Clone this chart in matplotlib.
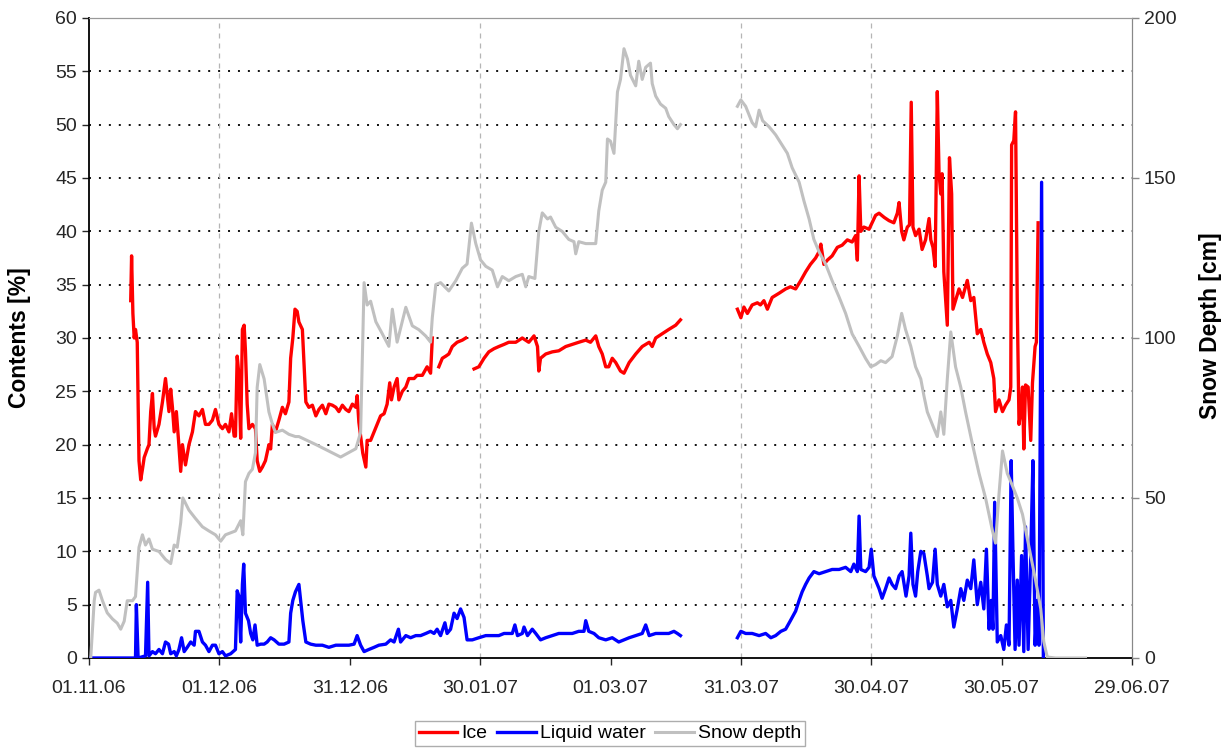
import numpy as np
import matplotlib
matplotlib.use('Agg')
import matplotlib.pyplot as plt

nan = np.nan

# x values are days since 01.11.06
tick_days   = [0, 30, 60, 90, 120, 150, 180, 210, 240]
tick_labels = ['01.11.06', '01.12.06', '31.12.06', '30.01.07', '01.03.07',
               '31.03.07', '30.04.07', '30.05.07', '29.06.07']
vgrid_days  = [30, 90, 150, 180]

# Ice content [%]
ice = [
    (9.6, 33.5), (9.8, 37.7), (10.1, 32.3), (10.4, 30.0), (10.7, 30.8), (11.1, 29.6), (11.5, 18.5),
    (11.9, 16.7), (12.3, 17.7), (12.7, 18.8), (13.4, 19.6), (13.8, 20.0), (14.2, 23.1), (14.6, 24.8),
    (15.0, 21.5), (15.3, 20.8), (16.1, 21.9), (16.9, 24.0), (17.6, 26.2), (18.0, 24.6), (18.4, 23.1),
    (18.8, 25.2), (19.2, 23.5), (19.6, 21.2), (20.1, 23.1), (20.6, 20.4), (21.1, 17.5), (21.5, 20.0),
    (22.2, 18.1), (23.0, 20.0), (23.8, 21.2), (24.5, 23.1), (25.3, 22.7), (26.1, 23.3), (26.8, 21.9),
    (27.6, 21.9), (28.4, 22.3), (29.1, 23.3), (29.9, 21.9), (30.7, 21.5), (31.4, 21.9), (32.2, 21.2),
    (32.8, 22.9), (33.4, 20.8), (33.7, 20.8), (34.1, 28.3), (34.5, 26.5), (34.9, 20.6), (35.3, 30.8),
    (35.7, 31.2), (36.0, 28.8), (36.4, 23.8), (36.8, 21.5), (37.6, 21.9), (38.3, 21.5), (38.7, 18.5),
    (39.3, 17.5), (39.9, 17.9), (40.6, 18.5), (41.4, 20.0), (41.8, 19.6), (42.2, 21.9), (42.9, 21.2),
    (43.7, 22.3), (44.5, 23.5), (45.2, 22.9), (46.0, 24.0), (46.4, 28.1), (46.9, 30.0), (47.4, 32.7),
    (47.9, 32.5), (48.3, 31.5), (49.1, 30.8), (49.5, 27.3), (49.9, 24.0), (50.6, 23.5), (51.4, 23.7),
    (52.2, 22.7), (52.9, 23.3), (53.7, 23.7), (54.5, 22.9), (55.2, 23.8), (56.0, 23.7), (56.8, 23.5),
    (57.5, 23.1), (58.3, 23.7), (59.1, 23.3), (59.8, 23.1), (60.6, 23.8), (61.4, 23.5), (61.7, 24.6),
    (62.1, 22.1), (62.5, 20.8), (63.0, 19.2), (63.7, 17.9), (64.0, 20.4), (64.8, 20.4), (65.6, 21.2),
    (66.3, 21.9), (67.1, 22.7), (67.9, 22.9), (68.6, 23.8), (69.2, 25.8), (69.6, 24.2), (70.2, 25.4),
    (70.9, 26.2), (71.3, 24.2), (72.1, 25.0), (72.9, 25.4), (73.6, 26.2), (74.8, 26.2), (75.5, 26.5),
    (76.7, 26.5), (77.8, 27.3), (78.6, 26.7), (79.0, 30.0), (79.7, nan),
    (80.5, 27.3), (81.3, 28.1), (82.1, 28.3), (82.8, 28.5), (83.6, 29.2), (84.7, 29.6), (85.9, 29.8),
    (86.7, 30.0), (87.5, nan),
    (88.6, 27.1), (89.7, 27.3), (90.9, 28.1), (92.0, 28.7), (93.2, 29.0), (94.3, 29.2), (95.5, 29.4),
    (96.6, 29.6), (98.2, 29.6), (99.7, 30.0), (101.2, 29.6), (102.4, 30.2), (103.2, 29.2), (103.5, 26.9),
    (103.9, 28.1), (105.1, 28.5), (106.6, 28.7), (108.1, 28.8), (109.7, 29.2), (111.2, 29.4),
    (112.7, 29.6), (114.3, 29.8), (115.4, 29.6), (116.6, 30.2), (117.3, 29.2), (118.1, 28.5),
    (118.9, 27.3), (119.6, 27.3), (120.4, 28.1), (121.2, 27.7), (122.3, 26.9), (123.1, 26.7),
    (124.3, 27.7), (125.8, 28.5), (127.3, 29.2), (128.9, 29.6), (129.6, 29.2), (130.4, 30.0),
    (131.9, 30.4), (133.4, 30.8), (135.0, 31.2), (136.1, 31.7), (142.0, nan),
    (149.2, 32.7), (150.0, 31.9), (150.7, 32.9), (151.5, 32.3), (152.6, 33.1), (153.8, 33.3),
    (154.5, 33.1), (155.3, 33.5), (156.1, 32.7), (157.2, 33.8), (158.8, 34.2), (160.3, 34.6),
    (161.4, 34.8), (162.6, 34.6), (163.8, 35.4), (164.9, 36.2), (166.0, 36.9), (167.2, 37.5),
    (168.0, 38.1), (168.4, 38.8), (169.1, 36.9), (169.9, 37.3), (171.0, 37.7), (172.2, 38.5),
    (173.3, 38.7), (174.5, 39.2), (175.6, 39.0), (176.4, 39.6), (176.8, 37.3), (177.2, 45.2),
    (177.6, 40.0), (178.3, 40.4), (179.5, 40.2), (180.2, 40.8), (181.0, 41.5), (181.8, 41.7),
    (183.0, 41.3), (184.1, 41.0), (185.2, 40.8), (186.0, 41.7), (186.4, 42.7), (187.0, 40.0),
    (187.5, 39.2), (188.3, 40.4), (188.8, 40.6), (189.2, 52.1), (189.6, 40.4), (190.2, 39.6),
    (191.0, 40.2), (191.7, 38.3), (192.5, 39.2), (193.3, 41.2), (193.7, 39.2), (194.2, 38.5),
    (194.7, 36.7), (195.2, 53.1), (195.6, 45.4), (196.0, 43.5), (196.3, 45.4), (196.7, 36.2),
    (197.5, 31.2), (198.0, 46.9), (198.5, 43.5), (198.8, 32.7), (199.4, 33.5), (200.2, 34.6),
    (201.0, 33.8), (202.1, 35.4), (202.9, 33.5), (203.6, 33.8), (204.4, 30.4), (205.2, 30.8),
    (205.9, 29.6), (206.7, 28.5), (207.5, 27.7), (208.2, 26.2), (208.6, 23.1), (209.4, 24.2),
    (210.2, 23.1), (210.9, 23.7), (211.7, 24.2), (212.1, 25.4), (212.3, 48.1), (212.8, 48.5),
    (213.2, 51.2), (213.6, 33.1), (214.0, 21.9), (214.4, 23.1), (214.8, 25.4), (215.1, 19.6),
    (215.5, 25.6), (216.1, 25.4), (216.7, 20.4), (217.1, 25.8), (217.7, 29.2), (218.0, 29.6),
    (218.4, 40.8),
]

# Liquid water content [%]
water = [
    (0.0, 0.0), (10.7, 0.0), (10.9, 5.0), (11.3, 0.0), (13.0, 0.2), (13.5, 7.1), (13.8, 0.2),
    (14.6, 0.6), (15.3, 0.4), (16.1, 0.8), (16.9, 0.4), (17.6, 1.5), (18.3, 1.3), (18.8, 0.4),
    (19.6, 0.6), (20.1, 0.2), (20.7, 0.8), (21.3, 1.9), (21.9, 0.6), (22.6, 1.0), (23.4, 1.5),
    (24.2, 1.2), (24.5, 2.5), (25.3, 2.5), (26.1, 1.5), (26.8, 1.2), (27.6, 0.6), (28.4, 1.2),
    (29.1, 1.2), (29.9, 0.4), (30.7, 0.6), (31.4, 0.2), (32.6, 0.4), (33.7, 0.8), (34.1, 6.3),
    (34.5, 5.8), (34.9, 1.5), (35.3, 6.9), (35.6, 8.8), (36.0, 4.2), (36.7, 3.5), (37.2, 2.3),
    (37.7, 1.7), (38.2, 3.1), (38.7, 1.2), (39.5, 1.3), (40.3, 1.3), (41.0, 1.5), (41.8, 1.9),
    (42.6, 1.7), (43.7, 1.3), (44.9, 1.3), (46.0, 1.5), (46.4, 4.2), (46.9, 5.4), (47.5, 6.2),
    (48.3, 6.9), (48.7, 5.4), (49.2, 3.5), (49.9, 1.5), (51.0, 1.3), (52.2, 1.2), (53.7, 1.2),
    (55.2, 1.0), (56.8, 1.2), (58.3, 1.2), (59.8, 1.2), (61.0, 1.3), (61.7, 2.1), (62.5, 1.2),
    (63.3, 0.6), (64.4, 0.8), (65.6, 1.0), (66.7, 1.2), (68.3, 1.3), (69.4, 1.7), (70.2, 1.5),
    (71.2, 2.7), (71.7, 1.5), (72.9, 2.1), (74.0, 1.9), (75.2, 2.1), (76.3, 2.1), (77.5, 2.3),
    (78.6, 2.5), (79.4, 2.3), (80.1, 2.7), (80.9, 2.1), (81.9, 3.3), (82.4, 2.3), (83.2, 2.7),
    (84.0, 4.2), (84.7, 3.7), (85.5, 4.6), (86.3, 3.8), (87.0, 1.7), (88.2, 1.7), (89.7, 1.9),
    (91.3, 2.1), (92.8, 2.1), (94.3, 2.1), (95.5, 2.3), (96.6, 2.3), (97.4, 2.3), (98.0, 3.1),
    (98.6, 2.1), (99.7, 2.3), (100.1, 2.9), (100.9, 2.1), (102.0, 2.7), (102.8, 2.3), (103.9, 1.7),
    (105.1, 1.9), (106.6, 2.1), (108.1, 2.3), (109.7, 2.3), (111.2, 2.3), (112.7, 2.5), (113.9, 2.5),
    (114.3, 3.5), (115.0, 2.5), (116.2, 2.3), (117.3, 1.9), (118.9, 1.7), (120.4, 1.9), (121.9, 1.5),
    (123.1, 1.7), (124.3, 1.9), (125.8, 2.1), (127.3, 2.3), (128.1, 3.1), (128.9, 2.1), (130.4, 2.3),
    (131.9, 2.3), (133.4, 2.3), (134.6, 2.5), (135.4, 2.3), (136.1, 2.1), (142.0, nan),
    (149.2, 1.9), (150.0, 2.5), (151.1, 2.3), (152.6, 2.3), (154.2, 2.1), (155.7, 2.3), (156.9, 1.9),
    (158.0, 2.1), (159.2, 2.5), (160.3, 2.7), (161.4, 3.5), (162.6, 4.4), (163.4, 5.4), (164.1, 6.2),
    (164.9, 6.9), (165.7, 7.5), (166.8, 8.1), (168.0, 7.9), (169.5, 8.1), (171.0, 8.3), (172.6, 8.3),
    (174.1, 8.5), (175.3, 8.1), (176.0, 8.8), (176.8, 8.1), (177.2, 13.3), (177.6, 8.3), (178.7, 8.1),
    (179.5, 8.5), (180.0, 10.2), (180.6, 7.7), (181.8, 6.5), (182.5, 5.6), (183.3, 6.5), (184.1, 7.5),
    (184.8, 6.9), (185.6, 6.5), (186.4, 7.7), (187.1, 8.1), (188.0, 5.8), (188.7, 7.7), (189.1, 11.7),
    (189.6, 6.9), (190.2, 5.8), (190.7, 8.1), (191.4, 10.0), (192.1, 9.8), (192.9, 7.7), (193.3, 6.5),
    (194.1, 7.1), (194.7, 10.2), (195.2, 6.9), (196.0, 5.8), (196.7, 6.9), (197.5, 4.8), (198.3, 5.4),
    (199.0, 2.9), (199.8, 4.6), (200.6, 6.5), (201.3, 5.4), (202.1, 7.3), (202.9, 6.5), (203.6, 9.2),
    (204.4, 5.0), (205.2, 7.1), (205.9, 4.6), (206.5, 10.2), (207.1, 2.7), (207.6, 5.4), (208.0, 2.7),
    (208.4, 14.6), (209.0, 1.5), (209.8, 2.1), (210.5, 0.8), (211.1, 3.1), (211.7, 1.2), (212.2, 18.5),
    (212.6, 10.0), (213.1, 0.8), (213.6, 7.3), (214.0, 1.2), (214.6, 9.6), (215.1, 0.6), (215.5, 12.3),
    (216.1, 0.8), (216.7, 9.6), (217.2, 18.5), (217.7, 1.2), (218.2, 5.4), (218.6, 1.2), (219.2, 44.6),
    (219.6, 0.0),
]

# Snow depth [cm]
snow = [
    (0.4, 0.0), (1.2, 17.9), (1.5, 20.5), (2.3, 21.2), (3.1, 17.9), (4.2, 14.1), (5.4, 12.2),
    (6.5, 10.9), (7.3, 9.0), (8.1, 11.5), (8.8, 17.9), (10.0, 17.9), (10.7, 19.2), (11.5, 34.6),
    (12.3, 38.5), (13.0, 35.3), (13.8, 37.2), (14.6, 34.0), (16.1, 33.3), (17.6, 30.8), (18.8, 29.5),
    (19.6, 35.3), (20.3, 34.6), (21.1, 42.3), (21.6, 50.0), (23.0, 46.2), (24.5, 43.6), (26.1, 41.0),
    (27.6, 39.7), (29.1, 38.5), (30.3, 36.5), (31.4, 38.5), (33.7, 39.7), (34.9, 42.9), (35.4, 38.5),
    (36.0, 55.1), (36.8, 57.7), (37.6, 59.0), (38.3, 64.1), (38.7, 84.6), (39.3, 91.7), (40.3, 87.2),
    (41.4, 76.9), (42.2, 73.1), (42.9, 70.5), (44.5, 71.2), (46.0, 69.9), (47.5, 69.2), (48.3, 69.2),
    (52.2, 66.7), (56.0, 64.1), (57.9, 62.8), (61.4, 65.4), (62.5, 70.5), (63.3, 117.3), (64.0, 110.3),
    (64.8, 111.5), (66.0, 105.1), (67.5, 101.3), (69.0, 97.4), (69.8, 109.0), (70.9, 98.7),
    (72.9, 109.6), (74.4, 103.8), (75.9, 102.6), (77.5, 100.6), (78.6, 98.7), (79.0, 106.4),
    (79.8, 116.7), (80.9, 117.3), (82.8, 114.7), (84.4, 117.9), (85.9, 121.8), (87.0, 123.1),
    (88.0, 135.9), (89.0, 129.5), (90.1, 124.4), (91.3, 122.4), (92.8, 121.2), (94.0, 116.0),
    (95.1, 119.2), (96.6, 117.9), (98.2, 119.2), (99.7, 119.9), (100.5, 116.0), (101.2, 119.2),
    (102.6, 118.6), (103.5, 133.3), (104.3, 139.1), (105.5, 137.2), (106.2, 137.8), (107.4, 134.6),
    (108.9, 133.3), (110.4, 130.8), (111.6, 130.1), (112.0, 126.3), (112.7, 130.1), (114.3, 129.5),
    (116.6, 129.5), (117.3, 139.7), (118.1, 146.2), (118.9, 148.7), (119.3, 162.2), (120.0, 161.5),
    (120.8, 157.7), (121.6, 176.9), (122.3, 180.8), (123.1, 190.4), (123.9, 187.2), (124.6, 182.1),
    (125.8, 178.8), (126.5, 186.5), (127.3, 180.8), (128.1, 184.6), (129.2, 185.9), (129.6, 179.5),
    (130.4, 175.6), (131.5, 173.1), (132.7, 171.8), (133.4, 169.2), (134.6, 166.7), (135.4, 165.4),
    (136.1, 166.7), (142.0, nan),
    (149.2, 172.4), (150.0, 174.4), (151.1, 172.4), (152.6, 167.3), (153.4, 166.0), (154.2, 171.2),
    (155.0, 167.9), (156.5, 166.0), (158.0, 163.5), (159.5, 160.3), (160.7, 157.7), (161.8, 153.2),
    (163.4, 148.7), (164.5, 142.9), (165.7, 137.2), (166.8, 130.8), (168.0, 126.9), (169.5, 123.1),
    (171.0, 117.9), (172.6, 112.8), (174.1, 107.7), (175.6, 101.3), (177.2, 97.4), (178.7, 93.6),
    (179.9, 91.0), (181.0, 91.7), (182.2, 92.9), (183.3, 92.3), (184.8, 94.2), (186.0, 100.6),
    (187.0, 107.7), (187.9, 102.6), (189.1, 97.4), (190.2, 91.0), (191.4, 87.2), (192.1, 82.1),
    (192.9, 76.9), (194.4, 71.8), (195.2, 69.2), (196.0, 76.9), (196.7, 69.9), (197.5, 87.2),
    (198.3, 101.9), (199.4, 91.0), (200.6, 84.6), (201.7, 76.9), (203.3, 66.7), (204.8, 57.7),
    (206.3, 50.0), (207.9, 39.7), (208.6, 35.9), (209.4, 51.3), (210.2, 64.7), (211.3, 57.7),
    (212.5, 53.8), (213.6, 50.0), (214.8, 44.9), (216.3, 34.6), (217.8, 24.4), (219.0, 15.4),
    (219.7, 5.1), (220.5, 0.3), (222.4, 0.0), (229.3, 0.0),
]

plt.rcParams['font.family'] = ['Liberation Sans', 'DejaVu Sans']

W, H = 1225, 751
fig = plt.figure(figsize=(W / 100, H / 100), dpi=100)
ax = fig.add_axes([89 / W, 93 / H, 1043 / W, 640 / H])
ax2 = ax.twinx()

ice_x, ice_y = np.array(ice).T
wat_x, wat_y = np.array(water).T
snow_x, snow_y = np.array(snow).T

# grid
for y in range(5, 60, 5):
    ax.axhline(y, color='black', lw=1.3, dashes=(1.1, 4.4), zorder=1)
for d in vgrid_days:
    ax.axvline(d, color='#b5b5b5', lw=0.9, dashes=(4, 4), zorder=1)

l_ice, = ax.plot(ice_x, ice_y, color='#ff0000', lw=2.4, label='Ice', zorder=3)
l_wat, = ax.plot(wat_x, wat_y, color='#0000ff', lw=2.4, label='Liquid water', zorder=3)
l_snow, = ax2.plot(snow_x, snow_y, color='#c0c0c0', lw=2.2, label='Snow depth')

ax.set_xlim(0, 240)
ax.set_ylim(0, 60)
ax2.set_ylim(0, 200)
ax.set_xticks(tick_days)
ax.set_xticklabels(tick_labels)
ax.set_yticks(range(0, 61, 5))
ax2.set_yticks(range(0, 201, 50))

for a in (ax, ax2):
    a.tick_params(labelsize=14, direction='out', length=5, width=1, colors='#262626')
ax2.tick_params(color='#888888')
ax.tick_params(axis='x', pad=11)

ax.spines['left'].set_color('black')
ax.spines['bottom'].set_color('black')
ax.spines['left'].set_linewidth(1.3)
ax.spines['bottom'].set_linewidth(1.3)
for a in (ax, ax2):
    a.spines['top'].set_color('#999999')
    a.spines['right'].set_color('#888888')
ax2.spines['left'].set_visible(False)
ax2.spines['bottom'].set_visible(False)

ax.set_ylabel('Contents [%]', fontsize=16.5, fontweight='bold')
ax.yaxis.set_label_coords(-0.0556, 0.5)
ax2.set_ylabel('Snow Depth [cm]', fontsize=16.5, fontweight='bold')
ax2.yaxis.set_label_coords(1.064, 0.52)

leg = fig.legend(
    [l_ice, l_wat, l_snow],
    ['Ice', 'Liquid water', 'Snow depth'],
    loc='upper center',
    bbox_to_anchor=(610 / W, 1 - 721 / H),
    ncol=3,
    fontsize=14,
    frameon=True,
    fancybox=False,
    edgecolor='#999999',
    handlelength=2.0,
    handletextpad=0.2,
    columnspacing=0.5,
    borderpad=0.2,
    borderaxespad=0,
)
leg.get_frame().set_linewidth(1.0)

fig.savefig('out.png', dpi=100)
